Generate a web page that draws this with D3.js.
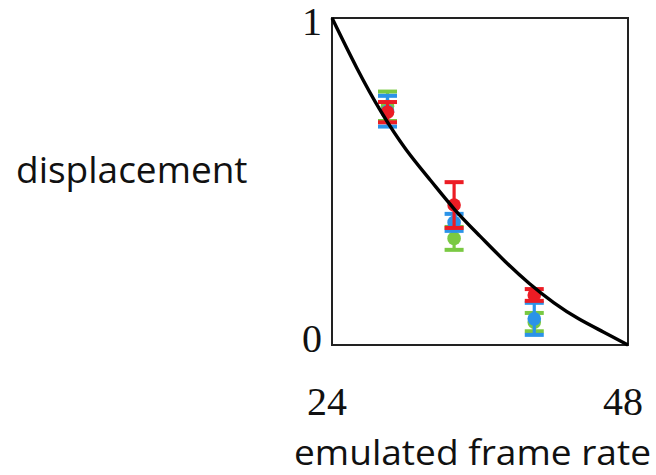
<!DOCTYPE html>
<html>
<head>
<meta charset="utf-8">
<script src="https://cdn.jsdelivr.net/npm/d3@7"></script>
<style>
  html, body { margin: 0; padding: 0; background: #fff; }
  svg { display: block; }
</style>
</head>
<body>
<svg id="chart" width="656" height="475"></svg>
<script>
// Emulated frame rates at which displacement was measured
const frameRates = [28.5, 33.9, 40.4];

// Mean displacement and error half-width per series (drawn green, blue, red)
const greenMean = [0.730, 0.326, 0.070];
const greenErr  = [0.045, 0.035, 0.028];
const blueMean  = [0.715, 0.375, 0.080];
const blueErr   = [0.047, 0.026, 0.049];
const redMean   = [0.712, 0.428, 0.153];
const redErr    = [0.031, 0.070, 0.018];

// Model curve sampled along the frame-rate range
const curveRate = [24, 26, 28, 30, 32, 34, 36, 38, 40, 42, 44, 46, 48];
const curveDisp = [1, 0.848, 0.712, 0.598, 0.503, 0.412, 0.333, 0.257, 0.188, 0.129, 0.080, 0.040, 0];

// Axis tick labels
const xTicks = [24, 48];
const yTicks = [0, 1];

const svg = d3.select("#chart");

const x = d3.scaleLinear().domain([24, 48]).range([332, 628]);
const y = d3.scaleLinear().domain([0, 1]).range([345, 18]);

// Plot frame
svg.append("rect")
  .attr("x", x(24)).attr("y", y(1))
  .attr("width", x(48) - x(24)).attr("height", y(0) - y(1))
  .attr("fill", "none").attr("stroke", "#222").attr("stroke-width", 2);

// Series, bottom layer first
const series = [
  { color: "#7ac943", mean: greenMean, err: greenErr },
  { color: "#2b93e8", mean: blueMean,  err: blueErr },
  { color: "#ec1c24", mean: redMean,   err: redErr }
];

const capW = 19, capH = 4, r = 6.8;

series.forEach(s => {
  const pts = frameRates.map((f, i) => ({ f, m: s.mean[i], e: s.err[i] }));
  const g = svg.append("g");
  g.selectAll("line.stem").data(pts).join("line")
    .attr("x1", d => x(d.f)).attr("x2", d => x(d.f))
    .attr("y1", d => y(d.m + d.e)).attr("y2", d => y(d.m - d.e))
    .attr("stroke", s.color).attr("stroke-width", 3.2);
  g.selectAll("rect.capTop").data(pts).join("rect")
    .attr("x", d => x(d.f) - capW / 2).attr("y", d => y(d.m + d.e) - capH / 2)
    .attr("width", capW).attr("height", capH).attr("fill", s.color);
  g.selectAll("rect.capBot").data(pts).join("rect")
    .attr("x", d => x(d.f) - capW / 2).attr("y", d => y(d.m - d.e) - capH / 2)
    .attr("width", capW).attr("height", capH).attr("fill", s.color);
  g.selectAll("circle").data(pts).join("circle")
    .attr("cx", d => x(d.f)).attr("cy", d => y(d.m)).attr("r", r)
    .attr("fill", s.color);
});

// Model curve
const curvePts = curveRate.map((f, i) => [f, curveDisp[i]]);
svg.append("path")
  .datum(curvePts)
  .attr("d", d3.line().x(d => x(d[0])).y(d => y(d[1])).curve(d3.curveNatural))
  .attr("fill", "none").attr("stroke", "#000").attr("stroke-width", 3.4);

// Tick labels
const serif = "'Liberation Serif', 'Times New Roman', serif";
svg.selectAll("text.ytick").data(yTicks).join("text")
  .attr("class", "ytick")
  .attr("x", 322)
  .attr("y", d => d === 1 ? y(d) + 17 : y(d) + 7)
  .attr("text-anchor", "end")
  .attr("font-family", serif).attr("font-size", 40).attr("fill", "#111")
  .text(d => d);

svg.selectAll("text.xtick").data(xTicks).join("text")
  .attr("class", "xtick")
  .attr("x", d => x(d) - 5)
  .attr("y", 415)
  .attr("text-anchor", "middle")
  .attr("font-family", serif).attr("font-size", 40).attr("fill", "#111")
  .text(d => d);

// Axis titles, stretched to their span
const sans = "'Open Sans', 'Noto Sans', sans-serif";
function fitText(txt, x0, baseline, width, size) {
  const t = svg.append("text")
    .attr("x", x0).attr("y", baseline)
    .attr("font-family", sans).attr("font-size", size).attr("fill", "#111")
    .text(txt);
  const w = t.node().getComputedTextLength();
  if (Math.abs(w - width) > 1) {
    t.attr("textLength", width).attr("lengthAdjust", "spacingAndGlyphs");
  }
  return t;
}
fitText("displacement", 16, 183, 232, 37);
fitText("emulated frame rate", 294, 465, 357, 35);
</script>
</body>
</html>
